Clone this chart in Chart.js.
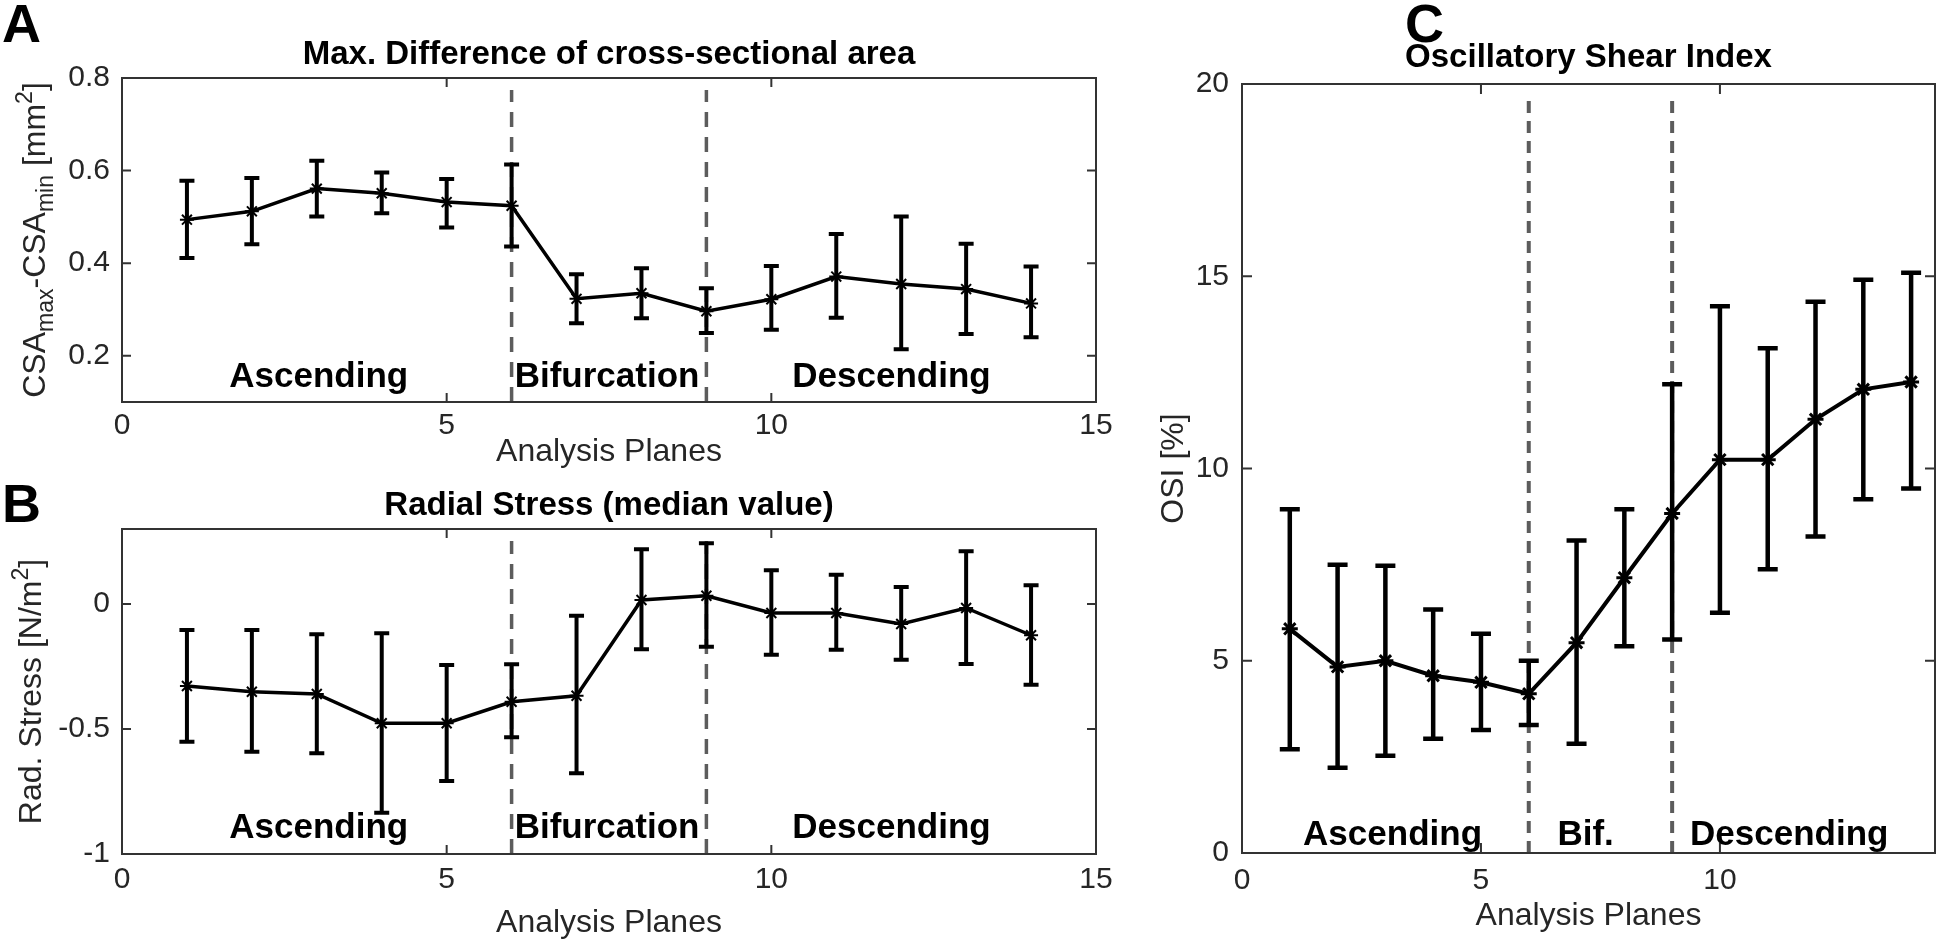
<!DOCTYPE html>
<html>
<head>
<meta charset="utf-8">
<script src="https://cdn.jsdelivr.net/npm/chart.js@4.4.1/dist/chart.umd.min.js"></script>
<style>
  html, body { margin: 0; padding: 0; background: #fff; overflow: hidden; }
  #wrap { position: relative; width: 1946px; height: 942px; }
  canvas { position: absolute; left: 0; top: 0; }
</style>
</head>
<body>
<div id="wrap">
  <canvas id="cA" width="1946" height="942"></canvas>
  <canvas id="cB" width="1946" height="942"></canvas>
  <canvas id="cC" width="1946" height="942"></canvas>
</div>
<script>
// ---------------- data ----------------
const planes = [1, 2, 3, 4, 5, 6, 7, 8, 9, 10, 11, 12, 13, 14];

const csaMean  = [0.494, 0.512, 0.561, 0.551, 0.532, 0.524, 0.323, 0.335, 0.296, 0.322, 0.371, 0.355, 0.344, 0.313];
const csaUpper = [0.578, 0.584, 0.621, 0.596, 0.582, 0.613, 0.376, 0.389, 0.346, 0.394, 0.463, 0.501, 0.442, 0.393];
const csaLower = [0.411, 0.441, 0.501, 0.508, 0.477, 0.436, 0.270, 0.281, 0.249, 0.256, 0.282, 0.214, 0.247, 0.240];

const radMedian = [-0.328, -0.351, -0.360, -0.477, -0.477, -0.391, -0.367, 0.016, 0.033, -0.036, -0.036, -0.080, -0.016, -0.125];
const radUpper  = [-0.104, -0.104, -0.121, -0.117, -0.244, -0.241, -0.047, 0.219, 0.243, 0.135, 0.117, 0.068, 0.211, 0.075];
const radLower  = [-0.551, -0.591, -0.597, -0.835, -0.708, -0.533, -0.677, -0.181, -0.171, -0.203, -0.183, -0.223, -0.240, -0.323];

const osiMean  = [5.83, 4.84, 5.00, 4.61, 4.44, 4.14, 5.47, 7.16, 8.83, 10.23, 10.23, 11.28, 12.06, 12.25];
const osiUpper = [8.94, 7.50, 7.47, 6.33, 5.70, 5.00, 8.13, 8.94, 12.19, 14.22, 13.13, 14.34, 14.91, 15.09];
const osiLower = [2.70, 2.22, 2.53, 2.97, 3.20, 3.33, 2.84, 5.38, 5.55, 6.25, 7.38, 8.23, 9.20, 9.48];

const xTicksAB = [0, 5, 10, 15];
const xTicksC  = [0, 5, 10];
const yTicksA  = [0.2, 0.4, 0.6, 0.8];
const yTicksB  = [-1, -0.5, 0];
const yTicksC  = [0, 5, 10, 15, 20];

const boundaries = [6, 9];
const regionsAB = ['Ascending', 'Bifurcation', 'Descending'];
const regionsC  = ['Ascending', 'Bif.', 'Descending'];
const regionPosAB = [3.03, 7.47, 11.85];
const regionPosC  = [3.15, 7.19, 11.45];

const titleA = 'Max. Difference of cross-sectional area';
const titleB = 'Radial Stress (median value)';
const titleC = 'Oscillatory Shear Index';
const xTitle = 'Analysis Planes';
const yTitleA = [{t:'CSA'}, {t:'max', sub:true}, {t:'-CSA'}, {t:'min', sub:true}, {t:' [mm'}, {t:'2', sup:true}, {t:']'}];
const yTitleB = [{t:'Rad. Stress [N/m'}, {t:'2', sup:true}, {t:']'}];
const yTitleC = [{t:'OSI [%]'}];

// ---------------- drawing helpers ----------------
const FAM = '"Liberation Sans", Arial, Helvetica, sans-serif';
const AXC = '#262626';

function drawRich(ctx, parts, cx, cy, F, rotate, color) {
  ctx.save();
  ctx.translate(cx, cy);
  if (rotate) ctx.rotate(-Math.PI / 2);
  const fontOf = p => ((p.sub || p.sup) ? Math.round(F * 0.72) : F) + 'px ' + FAM;
  const widths = parts.map(p => { ctx.font = fontOf(p); return ctx.measureText(p.t).width; });
  const total = widths.reduce((a, b) => a + b, 0);
  let x = -total / 2;
  ctx.textAlign = 'left';
  ctx.textBaseline = 'alphabetic';
  ctx.fillStyle = color;
  parts.forEach((p, i) => {
    ctx.font = fontOf(p);
    const dy = p.sub ? F * 0.25 : (p.sup ? -F * 0.42 : 0);
    ctx.fillText(p.t, x, dy);
    x += widths[i];
  });
  ctx.restore();
}

function makePlugin(cfg) {
  return {
    id: 'deco' + cfg.key,
    beforeDatasetsDraw(chart) {
      const ctx = chart.ctx, ca = chart.chartArea, xs = chart.scales.x, ys = chart.scales.y;
      ctx.save();
      ctx.strokeStyle = '#5c5c5c';
      ctx.lineWidth = cfg.dashW;
      ctx.setLineDash(cfg.dash);
      boundaries.forEach(b => {
        const px = xs.getPixelForValue(b);
        ctx.beginPath();
        ctx.moveTo(px, ca.bottom);
        ctx.lineTo(px, ca.top + cfg.dashTop);
        ctx.stroke();
      });
      ctx.setLineDash([]);
      ctx.strokeStyle = '#000';
      ctx.lineWidth = cfg.ebW;
      planes.forEach((p, i) => {
        const px = xs.getPixelForValue(p);
        const yt = ys.getPixelForValue(cfg.upper[i]);
        const yb = ys.getPixelForValue(cfg.lower[i]);
        ctx.beginPath();
        ctx.moveTo(px, yt); ctx.lineTo(px, yb);
        ctx.moveTo(px - cfg.cap, yt); ctx.lineTo(px + cfg.cap, yt);
        ctx.moveTo(px - cfg.cap, yb); ctx.lineTo(px + cfg.cap, yb);
        ctx.stroke();
      });
      ctx.restore();
    },
    afterDraw(chart) {
      const ctx = chart.ctx, ca = chart.chartArea, xs = chart.scales.x, ys = chart.scales.y;
      ctx.save();
      // box
      ctx.strokeStyle = '#333';
      ctx.lineWidth = 2;
      ctx.strokeRect(ca.left, ca.top, ca.right - ca.left, ca.bottom - ca.top);
      // inward ticks on all sides
      ctx.beginPath();
      xs.ticks.forEach(t => {
        const px = xs.getPixelForValue(t.value);
        ctx.moveTo(px, ca.bottom); ctx.lineTo(px, ca.bottom - cfg.tickLen);
        ctx.moveTo(px, ca.top); ctx.lineTo(px, ca.top + cfg.tickLen);
      });
      ys.ticks.forEach(t => {
        const py = ys.getPixelForValue(t.value);
        ctx.moveTo(ca.left, py); ctx.lineTo(ca.left + cfg.tickLen, py);
        ctx.moveTo(ca.right, py); ctx.lineTo(ca.right - cfg.tickLen, py);
      });
      ctx.stroke();
      // region labels
      ctx.fillStyle = '#000';
      ctx.font = 'bold ' + cfg.regFont + 'px ' + FAM;
      ctx.textAlign = 'center';
      ctx.textBaseline = 'alphabetic';
      cfg.regions.forEach((r, i) => {
        ctx.fillText(r, xs.getPixelForValue(cfg.regionPos[i]), ca.bottom - cfg.regOff);
      });
      // title
      const cx = (ca.left + ca.right) / 2;
      ctx.font = 'bold ' + cfg.titleFont + 'px ' + FAM;
      ctx.fillText(cfg.title, cx, cfg.titleY);
      // x axis title
      ctx.fillStyle = AXC;
      ctx.font = cfg.axFont + 'px ' + FAM;
      ctx.fillText(xTitle, cx, cfg.xTitleY);
      // y axis title
      drawRich(ctx, cfg.yTitle, cfg.yTitleX, (ca.top + ca.bottom) / 2, cfg.axFont, true, AXC);
      // panel letter
      ctx.fillStyle = '#000';
      ctx.font = 'bold 54px ' + FAM;
      ctx.textAlign = 'left';
      ctx.fillText(cfg.letter, cfg.letterX, cfg.letterY);
      ctx.restore();
    }
  };
}

function makeChart(id, cfg) {
  const tickFont = { family: FAM, size: 30 };
  return new Chart(document.getElementById(id), {
    type: 'line',
    data: {
      datasets: [{
        data: planes.map((p, i) => ({ x: p, y: cfg.values[i] })),
        borderColor: '#000',
        borderWidth: cfg.lineW,
        pointStyle: 'star',
        pointRadius: cfg.ptR,
        pointBorderWidth: cfg.ptW,
        pointBorderColor: '#000',
        pointBackgroundColor: '#000',
        tension: 0,
        fill: false
      }]
    },
    options: {
      responsive: false,
      animation: false,
      devicePixelRatio: 1,
      layout: { padding: cfg.pad },
      plugins: { legend: { display: false }, tooltip: { enabled: false }, title: { display: false } },
      scales: {
        x: {
          type: 'linear', min: cfg.xMin, max: cfg.xMax,
          grid: { display: false, drawTicks: false }, border: { display: false },
          ticks: { font: tickFont, color: AXC, padding: cfg.xPad, maxRotation: 0, autoSkip: false, callback: v => String(v) },
          afterBuildTicks: s => { s.ticks = cfg.xTicks.map(v => ({ value: v })); },
          afterFit: s => { s.height = cfg.xH; }
        },
        y: {
          type: 'linear', min: cfg.yMin, max: cfg.yMax,
          grid: { display: false, drawTicks: false }, border: { display: false },
          ticks: { font: tickFont, color: AXC, padding: cfg.yPad, autoSkip: false, callback: v => String(v) },
          afterBuildTicks: s => { s.ticks = cfg.yTicks.map(v => ({ value: v })); },
          afterFit: s => { s.width = cfg.yW; }
        }
      }
    },
    plugins: [makePlugin(cfg)]
  });
}

const commonAB = {
  xMin: 0, xMax: 15, xTicks: xTicksAB, yW: 122, yPad: 12,
  lineW: 3.5, ptR: 7, ptW: 2, ebW: 4, cap: 7.5,
  dash: [15, 10], dashW: 3.5, dashTop: 12, tickLen: 9,
  regions: regionsAB, regionPos: regionPosAB, regFont: 35, regOff: 15,
  titleFont: 33, axFont: 32
};

makeChart('cA', Object.assign({}, commonAB, {
  key: 'A', values: csaMean, upper: csaUpper, lower: csaLower,
  yMin: 0.1, yMax: 0.8, yTicks: yTicksA,
  pad: { left: 0, top: 78, right: 850, bottom: 0 }, xH: 540, xPad: 6,
  title: titleA, titleY: 64, xTitleY: 461, yTitle: yTitleA, yTitleX: 45,
  letter: 'A', letterX: 2, letterY: 42
}));

makeChart('cB', Object.assign({}, commonAB, {
  key: 'B', values: radMedian, upper: radUpper, lower: radLower,
  yMin: -1, yMax: 0.3, yTicks: yTicksB,
  pad: { left: 0, top: 529, right: 850, bottom: 0 }, xH: 88, xPad: 8,
  title: titleB, titleY: 515, xTitleY: 932, yTitle: yTitleB, yTitleX: 41,
  letter: 'B', letterX: 2, letterY: 522, regOff: 16
}));

makeChart('cC', {
  key: 'C', values: osiMean, upper: osiUpper, lower: osiLower,
  xMin: 0, xMax: 14.5, xTicks: xTicksC, yMin: 0, yMax: 20, yTicks: yTicksC,
  pad: { left: 0, top: 84, right: 4, bottom: 0 }, xH: 89, yW: 1242, xPad: 10, yPad: 13,
  lineW: 4, ptR: 8, ptW: 3, ebW: 4.5, cap: 10,
  dash: [12, 8], dashW: 4, dashTop: 10, tickLen: 10,
  regions: regionsC, regionPos: regionPosC, regFont: 35, regOff: 8,
  title: titleC, titleFont: 33, titleY: 67, axFont: 32, xTitleY: 925,
  yTitle: yTitleC, yTitleX: 1183,
  letter: 'C', letterX: 1405, letterY: 42
});
</script>
</body>
</html>
